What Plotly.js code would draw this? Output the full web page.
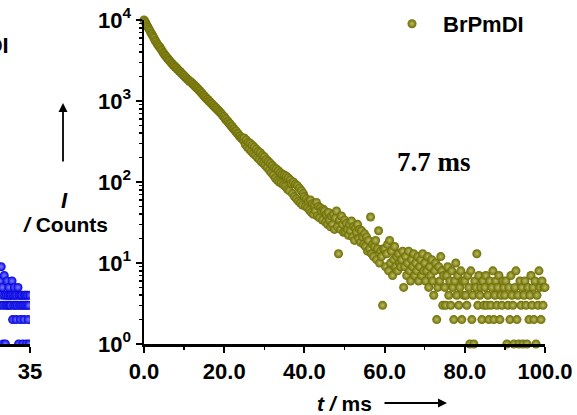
<!DOCTYPE html>
<html>
<head>
<meta charset="utf-8">
<script src="https://cdn.plot.ly/plotly-3.0.1.min.js"></script>
<style>
html,body{margin:0;padding:0;background:#fff;}
#chart{width:577px;height:415px;}
</style>
</head>
<body>
<div id="chart"></div>
<script>
// Main panel: BrPmDI decay, counts sampled every 0.25 ms from 0 to 100 ms
const seriesName = "BrPmDI";
const timeStepMs = 0.25;
const countsBrPmDI = [
10000, 9520, 9050, 8480, 8150, 7730, 7350, 6890, 6630, 6280, 5990, 5590, 5400, 5100, 4920, 4710, 4590, 4340, 4190, 3960,
3830, 3650, 3570, 3400, 3330, 3180, 3110, 2960, 2900, 2780, 2740, 2630, 2590, 2480, 2440, 2340, 2310, 2210, 2180, 2090,
2060, 1970, 1945, 1860, 1835, 1760, 1750, 1685, 1675, 1600, 1580, 1510, 1490, 1425, 1410, 1345, 1330, 1265, 1240, 1180,
1160, 1105, 1095, 1040, 1035, 985, 975, 930, 920, 875, 870, 825, 820, 780, 775, 735, 730, 695, 680, 645,
640, 600, 598, 560, 556, 522, 520, 488, 485, 455, 452, 425, 424, 396, 395, 370, 368, 347, 348, 327,
350, 290, 330, 270, 310, 255, 300, 240, 285, 225, 270, 215, 255, 200, 240, 190, 230, 178, 215, 170,
205, 160, 190, 150, 180, 140, 170, 130, 160, 122, 150, 112, 145, 105, 138, 100, 130, 96, 125, 92,
122, 88, 118, 82, 112, 78, 106, 96, 72, 100, 66, 94, 62, 90, 58, 84, 55, 78, 52, 72,
66, 50, 62, 48, 58, 45, 60, 42, 54, 40, 52, 44, 56, 38, 50, 36, 48, 44, 34, 46,
44, 32, 40, 30, 42, 34, 28, 38, 30, 40, 26, 36, 44, 28, 13, 34, 26, 38, 30, 24,
34, 24, 31, 26, 22, 30, 25, 33, 21, 28, 19, 27, 24, 30, 20, 26, 18, 25, 21, 17,
23, 16, 21, 14, 19, 15, 37, 13, 17, 12, 16, 19, 11, 15, 25, 10, 14, 12, 3, 15,
15, 9, 13, 17, 8, 19, 10, 14, 7, 11, 16, 9, 12, 8, 13, 10, 9, 11, 14, 5,
9, 12, 7, 10, 14, 8, 6, 11, 9, 13, 7, 10, 8, 12, 6, 9, 11, 7, 13, 8,
10, 6, 8, 12, 5, 9, 7, 11, 6, 4, 8, 10, 2, 5, 9, 6, 12, 8, 3, 7,
5, 3, 7, 9, 4, 6, 3, 8, 5, 2, 6, 10, 4, 7, 3, 5, 8, 2, 6, 4,
6, 4, 3, 7, 5, 1, 8, 2, 4, 1, 6, 5, 13, 3, 7, 4, 5, 2, 6, 3,
5, 7, 3, 4, 2, 6, 3, 5, 8, 2, 4, 6, 3, 5, 7, 2, 4, 3, 6, 5,
4, 6, 1, 3, 5, 2, 7, 4, 3, 1, 5, 8, 2, 4, 1, 6, 3, 5, 1, 4,
6, 3, 1, 5, 2, 4, 7, 3, 5, 2, 6, 1, 4, 3, 8, 5, 2, 6, 3, 5,
5
];
const timeMs = countsBrPmDI.map((_, i) => i * timeStepMs);

// Left neighbouring panel (only its right edge is visible)
const leftPanelStartMs = 32.5;
const leftPanelStepMs = 0.05;
const countsLeftPanel = [
6, 3, 9, 4, 5, 1, 3, 7, 4, 1,
3, 4, 6, 3, 4, 5, 3, 4, 3, 4,
6, 2, 4, 3, 5, 4, 3, 2, 4, 3,
5, 1, 4, 3, 2, 4, 3, 4, 1, 3,
2, 4, 3, 4, 1, 3, 4, 2, 3, 1,
4
];
const timeLeftPanel = countsLeftPanel.map((_, i) => leftPanelStartMs + i * leftPanelStepMs);

// Axis ticks / labels
const xTickStep = 20;
const yTickVals = [1, 10, 100, 1000, 10000];
const yTickText = ["10<sup>0</sup>", "10<sup>1</sup>", "10<sup>2</sup>", "10<sup>3</sup>", "10<sup>4</sup>"];
const yMinorTickVals = [2,3,4,5,6,7,8,9, 20,30,40,50,60,70,80,90, 200,300,400,500,600,700,800,900, 2000,3000,4000,5000,6000,7000,8000,9000];
const leftTickVals = [35];
const lifetimeLabel = "7.7 ms";

const W = 577, H = 415;
const plotLeft = 144, plotRight = 545, plotTop = 20, plotBottom = 344;
const px = x => x / W;
const py = y => (plotBottom - y) / (plotBottom - plotTop);

const sans = "Liberation Sans, Arial, sans-serif";
const tickFont = {family: sans, size: 22, color: "#000", weight: "bold"};

const traces = [
  {
    type: "scatter", mode: "markers", name: seriesName,
    x: timeMs, y: countsBrPmDI, xaxis: "x", yaxis: "y",
    cliponaxis: false,
    marker: {size: 9, color: "#6c6c00", line: {width: 0},
             gradient: {type: "radial", color: "#bcbc66"}}
  },
  {
    type: "scatter", mode: "markers", name: "left", showlegend: false,
    x: timeLeftPanel, y: countsLeftPanel, xaxis: "x2", yaxis: "y",
    cliponaxis: true,
    marker: {size: 9, color: "#0000e0", line: {width: 0},
             gradient: {type: "radial", color: "#8080ff"}}
  }
];

const ann = (x, y, text, font, extra) => Object.assign({
  xref: "paper", yref: "paper", x: px(x), y: py(y), text: text,
  xanchor: "center", yanchor: "middle", showarrow: false, font: font
}, extra || {});

const layout = {
  width: W, height: H,
  margin: {l: 0, r: 0, t: plotTop, b: H - plotBottom, pad: 0},
  paper_bgcolor: "#fff", plot_bgcolor: "rgba(0,0,0,0)",
  showlegend: true,
  legend: {x: px(381), y: py(3), xanchor: "left", yanchor: "top",
           font: {family: sans, size: 22, color: "#000", weight: "bold"},
           bgcolor: "rgba(0,0,0,0)", borderwidth: 0, itemwidth: 52},
  xaxis: {
    domain: [px(plotLeft), px(plotRight)], range: [0, 100], anchor: "y",
    tick0: 0, dtick: xTickStep, tickformat: ".1f",
    ticks: "outside", ticklen: 6, tickwidth: 2, tickcolor: "#000",
    minor: {ticks: "outside", ticklen: 3, tickwidth: 1.5, dtick: xTickStep / 2, tickcolor: "#000"},
    showline: true, linewidth: 2.5, linecolor: "#000",
    showgrid: false, zeroline: false, tickfont: tickFont
  },
  xaxis2: {
    domain: [0, px(30)], range: [leftPanelStartMs, 35], anchor: "y",
    tickvals: leftTickVals, ticks: "outside", ticklen: 6, tickwidth: 2, tickcolor: "#000",
    showline: true, linewidth: 2.5, linecolor: "#000",
    showgrid: false, zeroline: false, tickfont: tickFont
  },
  yaxis: {
    type: "log", range: [0, 4], anchor: "x", domain: [0, 1],
    tickmode: "array", tickvals: yTickVals, ticktext: yTickText,
    ticks: "outside", ticklen: 6, tickwidth: 2, tickcolor: "#000",
    minor: {tickmode: "array", tickvals: yMinorTickVals, ticks: "outside", ticklen: 3, tickwidth: 1.5, tickcolor: "#000"},
    showline: true, linewidth: 2.5, linecolor: "#000",
    showgrid: false, zeroline: false, tickfont: tickFont
  },
  annotations: [
    ann(434, 162, "<b>" + lifetimeLabel + "</b>", {family: "Liberation Serif, Times New Roman, serif", size: 27, color: "#000"}),
    ann(64, 200, "<b><i>I</i></b>", {family: sans, size: 22, color: "#000"}),
    ann(65, 225, "<b><i>/</i> Counts</b>", {family: sans, size: 21, color: "#000"}),
    ann(63, 103, "", {family: sans, size: 10, color: "#000"},
        {showarrow: true, ax: 0, ay: 60, arrowhead: 2, arrowsize: 1, arrowwidth: 1.8, arrowcolor: "#000"}),
    ann(344, 403, "<b><i>t</i> <i>/</i> ms</b>", {family: sans, size: 21, color: "#000"}),
    ann(447, 403, "", {family: sans, size: 10, color: "#000"},
        {showarrow: true, ax: -64, ay: 0, arrowhead: 2, arrowsize: 1, arrowwidth: 1.8, arrowcolor: "#000"}),
    ann(11, 45, "<b>" + seriesName + "</b>", {family: sans, size: 22, color: "#000"}, {xanchor: "right"})
  ]
};

Plotly.newPlot("chart", traces, layout, {displayModeBar: false, staticPlot: true});
</script>
</body>
</html>
